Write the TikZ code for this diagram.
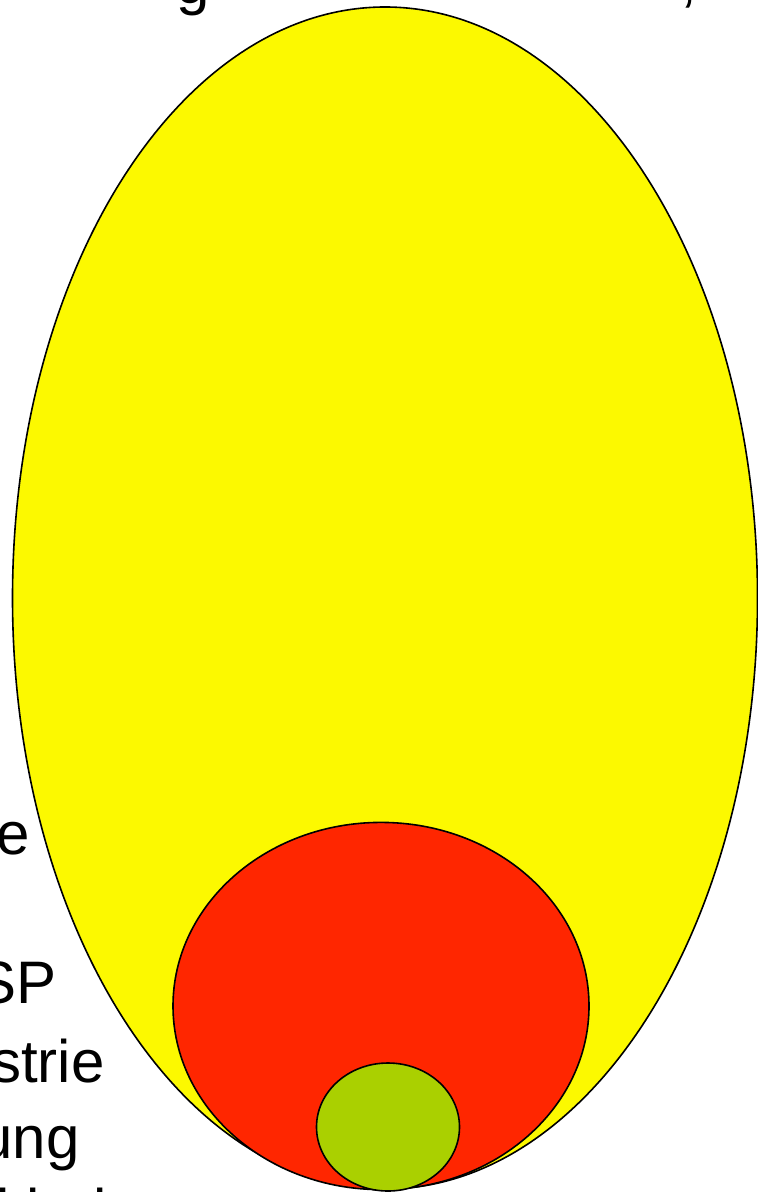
\documentclass[tikz,border=0pt]{standalone}
\usepackage{fontspec}
\setmainfont{Liberation Sans}
\definecolor{eggyellow}{RGB}{252,249,0}
\definecolor{eggred}{RGB}{255,38,0}
\definecolor{egggreen}{RGB}{170,208,0}
\tikzset{
  eggshape/.style={draw=black,line width=0.8pt},
  cuttext/.style={inner sep=0pt,font=\fontsize{30}{36}\selectfont},
  every picture/.style={x=0.5pt,y=-0.5pt}
}
\begin{document}
\begin{tikzpicture}
  \useasboundingbox (0,0) rectangle (758,1192);
  \clip (0,0) rectangle (758,1192);
  % nested regions, largest first
  \path[eggshape,fill=eggyellow] (385,598) ellipse [x radius=186.25pt,y radius=295.5pt];
  \path[eggshape,fill=eggred] (381,1006) ellipse [x radius=104pt,y radius=91.8pt];
  \path[eggshape,fill=egggreen] (388,1127) ellipse [x radius=35.75pt,y radius=32pt];
  % text cut off at the edges
  \node[cuttext,anchor=base west] (titleg) at (176,4) {g};
  \node[cuttext,anchor=base west] (titlecomma) at (680,1) {,};
  \node[cuttext,anchor=base east] (linee) at (30,854) {e};
  \node[cuttext,anchor=base east] (linesp) at (57,1003) {SP};
  \node[cuttext,anchor=base east] (linestrie) at (105,1082) {strie};
  \node[cuttext,anchor=base east] (lineung) at (80,1158) {ung};
  \node[cuttext,anchor=base west] (linelast) at (-4,1231) {i bel};
\end{tikzpicture}
\end{document}
